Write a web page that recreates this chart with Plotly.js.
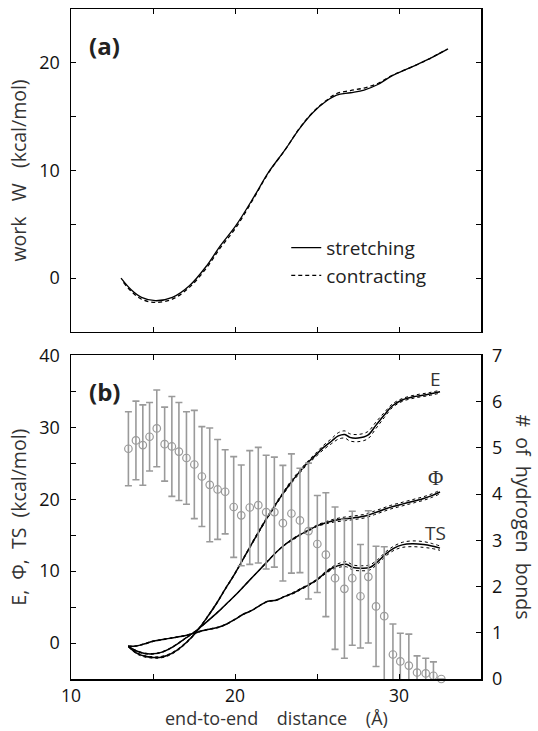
<!DOCTYPE html>
<html>
<head>
<meta charset="utf-8">
<script src="https://cdn.plot.ly/plotly-3.0.1.min.js"></script>
<style>html,body{margin:0;padding:0;background:#fff;}#chart{width:538px;height:731px;}</style>
</head>
<body>
<div id="chart"></div>
<script>
// ---------- panel (a): work W ----------
const stretchX = [13.05, 13.67, 14.3, 15.14, 16.18, 17.22, 18.27, 19.1, 20.04, 21.19, 22.03, 23.07, 23.9, 24.74, 25.57, 26.2, 27.04, 27.87, 28.71, 29.54, 30.79, 31.84, 32.99];
const stretchW = [0, -1.08, -1.79, -2.10, -1.79, -0.71, 1.14, 3.0, 4.85, 7.64, 9.8, 11.96, 13.82, 15.36, 16.45, 17.0, 17.22, 17.47, 17.99, 18.76, 19.63, 20.37, 21.3];
const contractX = [13.2, 13.67, 14.3, 15.14, 16.18, 17.22, 18.27, 19.1, 20.04, 21.19, 22.03, 23.07, 23.9, 24.74, 25.57, 26.2, 27.04, 27.87, 28.71, 29.54, 30.79, 31.84, 32.9];
const contractW = [-0.4, -1.22, -1.96, -2.26, -1.95, -0.86, 0.96, 2.8, 4.66, 7.55, 9.75, 11.95, 13.85, 15.4, 16.5, 17.15, 17.42, 17.66, 18.08, 18.8, 19.62, 20.36, 21.25];

// ---------- panel (b): E, Phi, TS ----------
const eX = [13.5, 14.0, 14.5, 15.0, 15.4, 15.9, 16.4, 16.9, 17.4, 17.9, 18.4, 18.9, 19.4, 19.9, 20.4, 20.9, 21.4, 21.9, 22.4, 22.9, 23.4, 23.9, 24.4, 24.9, 25.4, 25.9, 26.3, 26.7, 27.0, 27.5, 28.1, 28.6, 29.1, 29.6, 30.2, 31.0, 31.8, 32.5];
const eY = [-0.46, -1.4, -1.85, -2.0, -2.0, -1.7, -1.1, -0.2, 0.9, 2.3, 3.9, 5.6, 7.5, 9.3, 11.3, 13.3, 15.3, 17.2, 19.0, 20.7, 22.3, 23.7, 25.0, 26.1, 27.2, 28.1, 28.8, 29.0, 28.6, 28.5, 28.9, 30.3, 31.7, 33.0, 33.8, 34.3, 34.6, 34.95];
const eBand = [0.1, 0.1, 0.1, 0.1, 0.1, 0.1, 0.1, 0.1, 0.1, 0.1, 0.1, 0.1, 0.1, 0.1, 0.1, 0.1, 0.15, 0.15, 0.15, 0.15, 0.2, 0.2, 0.2, 0.25, 0.3, 0.35, 0.45, 0.5, 0.5, 0.5, 0.5, 0.45, 0.35, 0.25, 0.2, 0.2, 0.2, 0.2];

const phiX = [13.5, 14.0, 14.5, 15.0, 15.5, 16.0, 16.5, 17.0, 17.5, 18.0, 18.5, 19.0, 19.5, 20.0, 20.5, 21.0, 21.5, 22.0, 22.5, 23.0, 23.5, 24.0, 24.5, 25.0, 25.5, 26.0, 26.5, 27.0, 27.5, 28.0, 28.5, 29.0, 29.5, 30.0, 30.5, 31.0, 31.5, 32.0, 32.5];
const phiY = [-0.46, -1.1, -1.45, -1.5, -1.3, -0.8, -0.1, 0.7, 1.5, 2.4, 3.4, 4.4, 5.5, 6.6, 7.8, 9.0, 10.2, 11.4, 12.6, 13.6, 14.4, 15.1, 15.7, 16.3, 16.7, 17.0, 17.2, 17.35, 17.5, 17.7, 18.1, 18.5, 18.9, 19.2, 19.5, 19.8, 20.1, 20.5, 21.0];
const phiBand = [0.05, 0.05, 0.05, 0.05, 0.05, 0.05, 0.05, 0.05, 0.05, 0.05, 0.05, 0.05, 0.05, 0.05, 0.05, 0.05, 0.05, 0.05, 0.05, 0.05, 0.1, 0.1, 0.1, 0.1, 0.15, 0.2, 0.25, 0.25, 0.25, 0.25, 0.25, 0.25, 0.25, 0.25, 0.25, 0.25, 0.25, 0.25, 0.25];

const tsX = [13.5, 14.0, 14.5, 15.0, 15.5, 16.0, 16.5, 17.0, 17.5, 18.0, 18.5, 19.0, 19.5, 20.0, 20.5, 21.0, 21.5, 22.0, 22.5, 23.0, 23.5, 24.0, 24.5, 25.0, 25.5, 26.0, 26.5, 26.8, 27.2, 27.7, 28.2, 28.7, 29.2, 29.7, 30.2, 30.8, 31.5, 32.0, 32.5];
const tsY = [-0.46, -0.4, -0.1, 0.25, 0.45, 0.65, 0.85, 1.05, 1.35, 1.7, 1.95, 2.2, 2.65, 3.3, 4.0, 4.5, 5.2, 5.8, 5.95, 6.45, 6.9, 7.5, 8.1, 8.8, 9.75, 10.5, 10.9, 10.95, 10.5, 10.4, 10.5, 11.3, 12.4, 13.2, 13.65, 13.8, 13.7, 13.5, 13.2];
const tsBand = [0.05, 0.05, 0.05, 0.05, 0.05, 0.05, 0.05, 0.05, 0.05, 0.05, 0.05, 0.05, 0.05, 0.05, 0.05, 0.05, 0.05, 0.05, 0.05, 0.05, 0.1, 0.1, 0.1, 0.1, 0.15, 0.2, 0.3, 0.35, 0.35, 0.35, 0.35, 0.3, 0.3, 0.3, 0.35, 0.4, 0.4, 0.35, 0.3];

// ---------- panel (b): number of hydrogen bonds ----------
const hbX = [13.5, 13.96, 14.38, 14.79, 15.23, 15.71, 16.15, 16.58, 17.04, 17.52, 17.98, 18.46, 18.94, 19.40, 19.92, 20.38, 20.9, 21.42, 21.9, 22.4, 22.92, 23.44, 23.96, 24.48, 25.02, 25.54, 26.1, 26.67, 27.15, 27.65, 28.13, 28.6, 29.1, 29.63, 30.08, 30.6, 31.1, 31.63, 32.1, 32.58];
const hbN = [4.98, 5.16, 5.06, 5.24, 5.42, 5.08, 5.03, 4.92, 4.78, 4.64, 4.38, 4.20, 4.10, 4.05, 3.72, 3.54, 3.71, 3.76, 3.61, 3.61, 3.37, 3.58, 3.43, 3.20, 2.92, 2.69, 2.18, 1.95, 2.18, 1.79, 2.21, 1.57, 1.36, 0.53, 0.38, 0.29, 0.14, 0.12, 0.07, 0.0];
const hbErr = [0.80, 0.85, 0.87, 0.74, 0.83, 0.80, 1.08, 1.06, 1.00, 1.17, 1.08, 1.23, 1.08, 0.91, 1.09, 1.09, 1.23, 1.25, 1.23, 1.19, 1.25, 1.29, 1.13, 1.47, 1.05, 1.34, 1.54, 1.50, 1.45, 1.12, 1.43, 1.30, 1.50, 0.66, 0.61, 0.68, 0.36, 0.33, 0.30, 0.0];

const labels = {a: '(a)', b: '(b)', E: 'E', Phi: 'Φ', TS: 'TS'};

const FONT = 'Open Sans, Noto Sans, DejaVu Sans, sans-serif';
const SP2 = '\u00a0\u00a0';
const SP3 = '\u00a0\u00a0\u00a0';
const SP4 = '\u00a0\u00a0\u00a0\u00a0';
const upper = (y, b) => y.map((v, i) => v + b[i]);
const lower = (y, b) => y.map((v, i) => v - b[i]);

const traces = [];
traces.push({x: stretchX, y: stretchW, xaxis: 'x', yaxis: 'y', mode: 'lines', name: 'stretching',
  line: {color: '#000', width: 1.3, shape: 'spline'}, legendgroup: 'g1'});
traces.push({x: contractX, y: contractW, xaxis: 'x', yaxis: 'y', mode: 'lines', name: 'contracting',
  line: {color: '#000', width: 1.3, dash: '4px,3px', shape: 'spline'}, legendgroup: 'g2'});

// hydrogen bonds: error bars (clipped) + circles
traces.push({x: hbX, y: hbN, xaxis: 'x2', yaxis: 'y3', mode: 'markers', showlegend: false,
  marker: {size: 1, opacity: 0},
  error_y: {type: 'data', array: hbErr, visible: true, color: '#9a9a9a', thickness: 1.6, width: 3.5}});
traces.push({x: hbX, y: hbN, xaxis: 'x2', yaxis: 'y3', mode: 'markers', showlegend: false, cliponaxis: false,
  marker: {symbol: 'circle-open', size: 7.5, color: '#9a9a9a', line: {width: 1.2, color: '#9a9a9a'}}});

[[eX, eY, eBand], [phiX, phiY, phiBand], [tsX, tsY, tsBand]].forEach(([xs, ys, bs]) => {
  traces.push({x: xs, y: upper(ys, bs), xaxis: 'x2', yaxis: 'y2', mode: 'lines', showlegend: false,
    line: {color: '#000', width: 1, dash: 'dot', shape: 'spline'}});
  traces.push({x: xs, y: lower(ys, bs), xaxis: 'x2', yaxis: 'y2', mode: 'lines', showlegend: false,
    line: {color: '#000', width: 1, dash: 'dot', shape: 'spline'}});
  traces.push({x: xs, y: ys, xaxis: 'x2', yaxis: 'y2', mode: 'lines', showlegend: false,
    line: {color: '#000', width: 1.5, shape: 'spline'}});
});

const minorTicks = {dtick: 5, ticks: 'inside', ticklen: 5, tickcolor: '#000', tickwidth: 1};
const axCommon = {showline: true, linecolor: '#000', linewidth: 1.5, ticks: 'inside', ticklen: 5,
  tickwidth: 1, tickcolor: '#000', showgrid: false, zeroline: false, mirror: 'ticks',
  tickfont: {family: FONT, size: 18, color: '#111'}, ticklabelstandoff: 6};
const titleFont = {family: FONT, size: 19.5, color: '#333'};

const layout = {
  width: 538, height: 731,
  margin: {l: 71, r: 57, t: 9, b: 52},
  paper_bgcolor: '#fff', plot_bgcolor: '#fff',
  font: {family: FONT, color: '#111'},
  showlegend: true,
  legend: {x: 0.525, y: 0.672, xanchor: 'left', yanchor: 'top', bgcolor: 'rgba(0,0,0,0)',
    font: {family: FONT, size: 19, color: '#222'}, tracegroupgap: 0},
  xaxis: Object.assign({}, axCommon, {domain: [0, 1], anchor: 'y', range: [10, 35], tick0: 10, dtick: 5,
    showticklabels: false}),
  yaxis: Object.assign({}, axCommon, {domain: [0.518, 1], anchor: 'x', range: [-5, 25], tick0: 0, dtick: 10,
    minor: minorTicks,
    title: {text: 'work' + SP3 + 'W' + SP3 + '(kcal/mol)', font: titleFont, standoff: 7}}),
  xaxis2: Object.assign({}, axCommon, {domain: [0, 1], anchor: 'y2', range: [10, 35], tick0: 10, dtick: 10,
    minor: minorTicks, ticklabelstandoff: 0, tickfont: {family: FONT, size: 17.5, color: '#111'}}),
  yaxis2: Object.assign({}, axCommon, {domain: [0, 0.483], anchor: 'x2', range: [-5, 40], tick0: 0, dtick: 10,
    mirror: false, minor: minorTicks,
    title: {text: 'E,' + SP2 + 'Φ,' + SP2 + 'TS' + SP2 + '(kcal/mol)', font: titleFont, standoff: 7}}),
  yaxis3: Object.assign({}, axCommon, {overlaying: 'y2', anchor: 'x2', side: 'right', range: [0, 7], tick0: 0, dtick: 1,
    mirror: false}),
  annotations: [
    {xref: 'paper', yref: 'paper', x: 0.04, y: 0.946, xanchor: 'left', yanchor: 'middle', showarrow: false,
      text: '<b>' + labels.a + '</b>', font: {family: FONT, size: 24, color: '#222'}},
    {xref: 'paper', yref: 'paper', x: 0.04, y: 0.429, xanchor: 'left', yanchor: 'middle', showarrow: false,
      text: '<b>' + labels.b + '</b>', font: {family: FONT, size: 24, color: '#222'}},
    {xref: 'x2', yref: 'y2', x: 32.25, y: 36.7, showarrow: false, text: labels.E,
      font: {family: FONT, size: 19, color: '#333'}},
    {xref: 'x2', yref: 'y2', x: 32.25, y: 23.0, showarrow: false, text: labels.Phi,
      font: {family: 'Liberation Serif, DejaVu Serif, serif', size: 21, color: '#333'}},
    {xref: 'x2', yref: 'y2', x: 32.2, y: 15.3, showarrow: false, text: labels.TS,
      font: {family: FONT, size: 19, color: '#333'}},
    {xref: 'paper', yref: 'paper', x: 1.104, y: 0.2415, xanchor: 'center', yanchor: 'middle', showarrow: false,
      textangle: 90, text: '#' + SP2 + 'of' + SP2 + 'hydrogen' + SP2 + 'bonds', font: titleFont},
    {xref: 'paper', yref: 'paper', x: 0.5, y: -0.0776, xanchor: 'center', yanchor: 'bottom', showarrow: false,
      borderpad: 0, text: 'end-to-end' + SP4 + 'distance' + SP4 + '(Å)', font: {family: FONT, size: 18, color: '#333'}}
  ]
};

Plotly.newPlot('chart', traces, layout, {displayModeBar: false, staticPlot: true});
</script>
</body>
</html>
